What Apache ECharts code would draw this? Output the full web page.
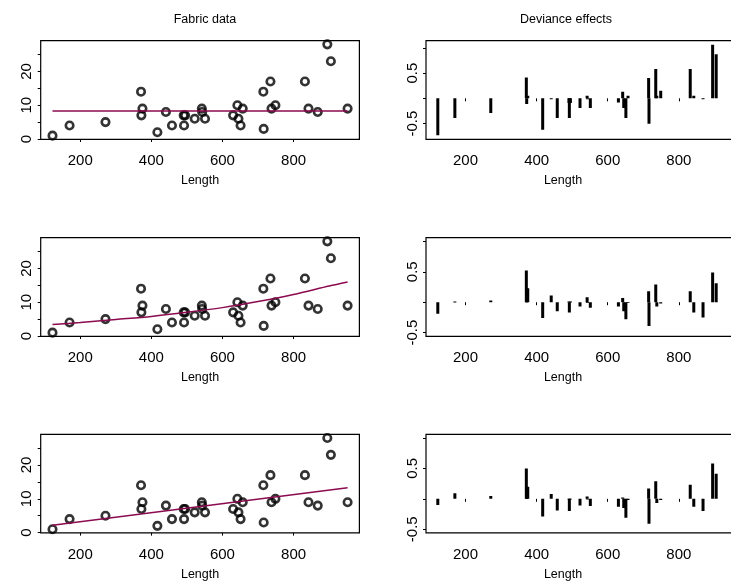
<!DOCTYPE html>
<html>
<head>
<meta charset="utf-8">
<title>Fabric data</title>
<script src="https://cdn.jsdelivr.net/npm/echarts@6/dist/echarts.min.js"></script>
<style>
  html, body { margin: 0; padding: 0; background: #fff; }
  #chart { width: 731px; height: 584px; }
</style>
</head>
<body>
<div id="chart"></div>
<script>
// fabric rolls, sorted by length
const lengths = [122, 170, 271, 371, 372, 375, 417, 441, 458, 491, 492, 495, 522, 542, 543, 551,
  630, 642, 645, 651, 657, 715, 716, 735, 738, 749, 832, 842, 868, 895, 905, 952]
const faults = [1, 4, 5, 14, 7, 9, 2, 8, 4, 7, 4, 7, 6, 9, 8, 6,
  7, 10, 6, 4, 9, 14, 3, 17, 9, 10, 17, 9, 8, 28, 23, 9]

// fitted means
const fitConstX = [122, 952]
const fitConstY = [8.3, 8.3]
const fitLogX = [122, 200, 300, 400, 500, 600, 700, 800, 900, 952]
const fitLogY = [3.4, 4.0, 4.9, 5.8, 7.0, 8.4, 10.2, 12.3, 14.8, 16.0]
const fitLinX = [122, 952]
const fitLinY = [2.2, 13.3]

// deviance effects per roll (same order as lengths)
const devConst = [-0.73, -0.39, -0.29, 0.41, -0.11, 0.05, -0.62, -0.01, -0.39, -0.09, -0.39, -0.09, -0.19, 0.05, -0.02, -0.19,
  -0.08, 0.13, -0.19, -0.39, 0.05, 0.40, -0.50, 0.58, 0.05, 0.15, 0.58, 0.05, -0.01, 1.06, 0.87, 0.05]
const devLog = [-0.19, 0.01, 0.03, 0.52, 0.12, 0.23, -0.26, 0.11, -0.15, 0.01, -0.17, 0.01, -0.07, 0.08, 0.0, -0.09,
  -0.07, 0.07, -0.15, -0.28, -0.01, 0.18, -0.39, 0.29, -0.07, -0.02, 0.18, -0.17, -0.25, 0.49, 0.31, -0.30]
const devLin = [-0.10, 0.09, 0.045, 0.50, 0.10, 0.20, -0.29, 0.08, -0.19, -0.01, -0.20, -0.01, -0.11, 0.04, -0.01, -0.12,
  -0.13, 0.02, -0.15, -0.31, -0.02, 0.17, -0.41, 0.29, -0.07, -0.02, 0.23, -0.13, -0.20, 0.58, 0.41, -0.25]

// tick labels
const xTicks = [200, 400, 600, 800]
const yTicksLeft = [0, 5, 10, 15, 20, 25]
const yLabelsLeft = [0, 10, 20]
const yTicksRight = [-0.5, 0, 0.5, 1]
const yLabelsRight = [-0.5, 0.5]

const font = '"Liberation Sans", Arial, Helvetica, sans-serif'
const curveColor = '#8b0a50'

const xPad = (952 - 122) * 0.04
const colLeft = [40.7, 426]
const boxW = 318.7
const rowTop = [40.7, 237.7, 434.3]
const boxH = 98.6
const rightRanges = [[-0.81, 1.14], [-0.56, 1.06], [-0.56, 1.06]]

const grids = []
const xAxes = []
const yAxes = []
const series = []
const texts = []

const axisTick = { show: true, length: 3, lineStyle: { color: '#000', width: 1 } }
const textStyle = { color: '#000', fontSize: 12.5, fontWeight: 'normal', fontFamily: font }

const renderDev = (params, api) => {
  const base = api.coord([api.value(0), 0])
  const tip = api.coord([api.value(0), api.value(1)])
  return {
    type: 'rect',
    shape: {
      x: base[0] - 1.5,
      y: Math.min(base[1], tip[1]),
      width: 3,
      height: Math.max(Math.abs(tip[1] - base[1]), 0.8)
    },
    style: { fill: '#000' }
  }
}

const fits = [[fitConstX, fitConstY], [fitLogX, fitLogY], [fitLinX, fitLinY]]
const devs = [devConst, devLog, devLin]

for (let r = 0; r < 3; r++) {
  for (let c = 0; c < 2; c++) {
    const i = grids.length
    grids.push({
      left: colLeft[c], top: rowTop[r], width: boxW, height: boxH,
      outerBoundsMode: 'none',
      show: true, borderColor: '#000', borderWidth: 1.2, backgroundColor: 'transparent'
    })
    xAxes.push({
      gridIndex: i, type: 'value',
      min: 122 - xPad, max: 952 + xPad,
      name: c === 0 ? 'Length' : '', nameLocation: 'middle', nameGap: 35,
      nameTextStyle: { color: '#000', fontSize: 12.5, fontFamily: font },
      axisLine: { show: false },
      axisTick: Object.assign({ customValues: xTicks }, axisTick),
      axisLabel: { customValues: xTicks, color: '#000', fontSize: 15, fontFamily: font, margin: 14 },
      splitLine: { show: false }
    })
    const yr = c === 0 ? [-0.08, 29.08] : rightRanges[r]
    yAxes.push({
      gridIndex: i, type: 'value',
      min: yr[0], max: yr[1],
      axisLine: { show: false },
      axisTick: Object.assign({ customValues: c === 0 ? yTicksLeft : yTicksRight }, axisTick),
      axisLabel: {
        customValues: c === 0 ? yLabelsLeft : yLabelsRight,
        rotate: 90, color: '#000', fontSize: 15, fontFamily: font, margin: 6
      },
      splitLine: { show: false }
    })
    if (c === 0) {
      series.push({
        type: 'scatter', xAxisIndex: i, yAxisIndex: i,
        data: lengths.map((x, k) => [x, faults[k]]),
        symbol: 'circle', symbolSize: 7.5,
        itemStyle: { color: 'rgba(255,255,255,0)', borderColor: '#000', borderWidth: 2.6 },
        silent: true, z: 3
      })
      const f = fits[r]
      series.push({
        type: 'line', xAxisIndex: i, yAxisIndex: i,
        data: f[0].map((x, k) => [x, f[1][k]]),
        showSymbol: false, smooth: 0.3,
        lineStyle: { color: curveColor, width: 1.5 },
        silent: true, z: 4
      })
    } else {
      // right-hand x label sits off the box centre in the original
      texts.push({ text: 'Length', left: 558, top: rowTop[r] + boxH + 30, textAlign: 'center', textStyle })
      series.push({
        type: 'custom', xAxisIndex: i, yAxisIndex: i,
        data: lengths.map((x, k) => [x, devs[r][k]]),
        renderItem: renderDev,
        clip: true, silent: true
      })
    }
  }
}

const chart = echarts.init(document.getElementById('chart'))
chart.setOption({
  animation: false,
  backgroundColor: '#fff',
  title: [
    { text: 'Fabric data', left: 200, top: 8, textAlign: 'center', textStyle },
    { text: 'Deviance effects', left: 561, top: 8, textAlign: 'center', textStyle }
  ].concat(texts),
  grid: grids,
  xAxis: xAxes,
  yAxis: yAxes,
  series: series
})
</script>
</body>
</html>
